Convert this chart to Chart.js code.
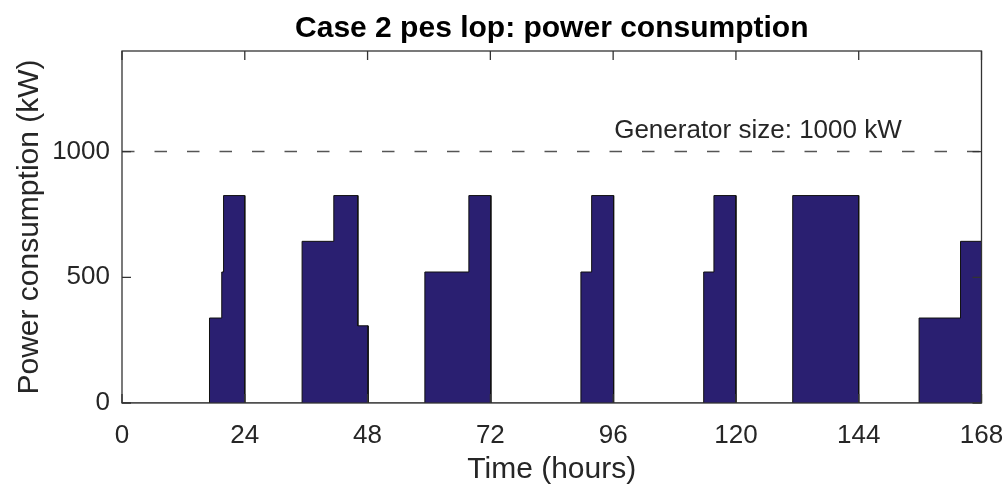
<!DOCTYPE html>
<html>
<head>
<meta charset="utf-8">
<script src="https://cdn.jsdelivr.net/npm/chart.js@4.4.1/dist/chart.umd.min.js"></script>
<style>
  html, body { margin: 0; padding: 0; background: #fff; }
  #wrap { width: 1007px; height: 490px; }
</style>
</head>
<body>
<div id="wrap"><canvas id="power-chart" width="1007" height="490"></canvas></div>
<script>
// load blocks: start hour, end hour, kW
const segStart = [17.1, 19.5, 19.85, 35.2, 41.4, 46.1, 59.2, 67.8, 89.7, 91.8, 113.7, 115.7, 131.1, 155.8, 163.9];
const segEnd = [19.5, 19.85, 24, 41.4, 46.1, 48.1, 67.8, 72.1, 91.8, 96.1, 115.7, 120, 144, 163.9, 168];
const segLoad = [338, 521, 825, 643, 825, 307, 521, 825, 521, 825, 521, 825, 825, 338, 643];

const generatorSize = 1000;
const hourTicks = [0, 24, 48, 72, 96, 120, 144, 168];
const kwTicks = [0, 500, 1000];

const textColor = "#262626";
const fillColor = "#2a1f71";
const fontFamily = "'Liberation Sans', Arial, sans-serif";

// area outline with vertical edges at each step
function buildProfile() {
  const pts = [{ x: 0, y: 0 }];
  for (let i = 0; i < segLoad.length; i++) {
    if (i === 0 || segStart[i] !== segEnd[i - 1]) {
      pts.push({ x: segStart[i], y: 0 });
    }
    pts.push({ x: segStart[i], y: segLoad[i] });
    pts.push({ x: segEnd[i], y: segLoad[i] });
    if (i === segLoad.length - 1 || segStart[i + 1] !== segEnd[i]) {
      pts.push({ x: segEnd[i], y: 0 });
    }
  }
  if (pts[pts.length - 1].x < 168) pts.push({ x: 168, y: 0 });
  return pts;
}

const frame = {
  id: "frame",
  afterDraw(chart) {
    const { ctx, chartArea: a, scales } = chart;
    const tick = 9;
    ctx.save();
    ctx.strokeStyle = "#333";
    ctx.lineWidth = 1.3;
    ctx.strokeRect(a.left, a.top, a.right - a.left, a.bottom - a.top);
    ctx.beginPath();
    scales.x.ticks.forEach((t) => {
      const px = scales.x.getPixelForValue(t.value);
      ctx.moveTo(px, a.bottom);
      ctx.lineTo(px, a.bottom - tick);
      ctx.moveTo(px, a.top);
      ctx.lineTo(px, a.top + tick);
    });
    scales.y.ticks.forEach((t) => {
      const py = scales.y.getPixelForValue(t.value);
      ctx.moveTo(a.left, py);
      ctx.lineTo(a.left + tick, py);
      ctx.moveTo(a.right, py);
      ctx.lineTo(a.right - tick, py);
    });
    ctx.stroke();

    ctx.fillStyle = "#000";
    ctx.textAlign = "center";
    ctx.textBaseline = "alphabetic";
    ctx.font = "bold 30px " + fontFamily;
    ctx.fillText("Case 2 pes lop: power consumption", (a.left + a.right) / 2, 37);

    ctx.fillStyle = textColor;
    ctx.font = "30px " + fontFamily;
    ctx.fillText("Time (hours)", (a.left + a.right) / 2, 478);

    ctx.save();
    ctx.translate(38, (a.top + a.bottom) / 2);
    ctx.rotate(-Math.PI / 2);
    ctx.fillText("Power consumption (kW)", 0, 0);
    ctx.restore();

    ctx.font = "26px " + fontFamily;
    ctx.textAlign = "left";
    ctx.fillText(
      "Generator size: " + generatorSize + " kW",
      scales.x.getPixelForValue(96.2),
      scales.y.getPixelForValue(generatorSize) - 14
    );
    ctx.restore();
  },
};

new Chart("power-chart", {
  type: "line",
  data: {
    datasets: [
      {
        data: buildProfile(),
        fill: "origin",
        backgroundColor: fillColor,
        borderColor: "#111",
        borderWidth: 1,
        pointRadius: 0,
        tension: 0,
      },
      {
        data: [
          { x: 0, y: generatorSize },
          { x: 168, y: generatorSize },
        ],
        fill: false,
        borderColor: "#555",
        borderWidth: 1.5,
        borderDash: [12.5, 20],
        pointRadius: 0,
      },
    ],
  },
  options: {
    responsive: false,
    animation: false,
    events: [],
    layout: { padding: { top: 51, right: 25.5, bottom: 0, left: 0 } },
    plugins: {
      legend: { display: false },
      tooltip: { enabled: false },
      title: { display: false },
    },
    scales: {
      x: {
        type: "linear",
        min: 0,
        max: 168,
        grid: { display: false },
        border: { display: false },
        afterBuildTicks: (s) => {
          s.ticks = hourTicks.map((v) => ({ value: v }));
        },
        afterFit: (s) => {
          s.height = 87;
          s.paddingLeft = 0;
          s.paddingRight = 0;
        },
        ticks: {
          color: textColor,
          padding: 9,
          maxRotation: 0,
          autoSkip: false,
          callback: (v) => String(v),
          font: { family: fontFamily, size: 26 },
        },
      },
      y: {
        min: 0,
        max: 1400,
        grid: { display: false },
        border: { display: false },
        afterBuildTicks: (s) => {
          s.ticks = kwTicks.map((v) => ({ value: v }));
        },
        afterFit: (s) => {
          s.width = 122;
          s.paddingTop = 0;
          s.paddingBottom = 0;
        },
        ticks: {
          color: textColor,
          padding: 4,
          callback: (v) => String(v),
          font: { family: fontFamily, size: 26 },
        },
      },
    },
  },
  plugins: [frame],
});
</script>
</body>
</html>
